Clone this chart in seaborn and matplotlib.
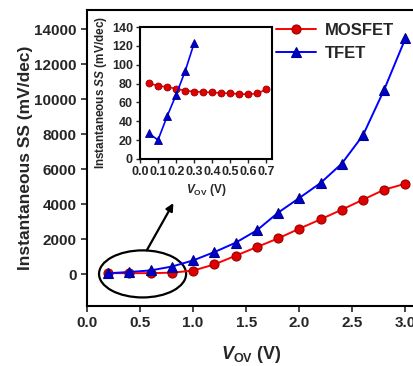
import matplotlib
matplotlib.use("Agg")
import matplotlib.pyplot as plt
import seaborn as sns
import pandas as pd
from matplotlib.patches import Ellipse

# ---- data ----
vov_main = [0.2, 0.4, 0.6, 0.8, 1.0, 1.2, 1.4, 1.6, 1.8, 2.0, 2.2, 2.4, 2.6, 2.8, 3.0]
ss_mosfet = [75, 70, 75, 100, 220, 571, 1066, 1562, 2057, 2610, 3143, 3695, 4267, 4838, 5180]
ss_tfet = [68, 140, 230, 450, 800, 1276, 1810, 2514, 3524, 4362, 5219, 6324, 7943, 10552, 13480]

vov_inset_mos = [0.05, 0.10, 0.15, 0.20, 0.25, 0.30, 0.35, 0.40, 0.45, 0.50, 0.55, 0.60, 0.65, 0.70]
ss_inset_mos = [80.5, 77.5, 76.5, 74.5, 72.5, 71.5, 71, 70.5, 70, 69.5, 69, 68.5, 69.5, 74]
vov_inset_tfet = [0.05, 0.10, 0.15, 0.20, 0.25, 0.30]
ss_inset_tfet = [27, 20, 45, 68, 93, 123]

main_xticks = [0.0, 0.5, 1.0, 1.5, 2.0, 2.5, 3.0]
main_yticks = [0, 2000, 4000, 6000, 8000, 10000, 12000, 14000]
inset_xticks = [0.0, 0.1, 0.2, 0.3, 0.4, 0.5, 0.6, 0.7]
inset_yticks = [0, 20, 40, 60, 80, 100, 120, 140]

sns.set_style("ticks")
plt.rcParams['font.family'] = ['Liberation Sans', 'DejaVu Sans']
plt.rcParams['font.weight'] = 'bold'
plt.rcParams['mathtext.fontset'] = 'custom'
plt.rcParams['mathtext.it'] = 'Liberation Sans:italic:bold'
plt.rcParams['mathtext.rm'] = 'Liberation Sans:bold'
plt.rcParams['mathtext.bf'] = 'Liberation Sans:bold'

fig = plt.figure(figsize=(4.14, 3.66), dpi=100)
ax = fig.add_axes([0.210, 0.164, 0.795, 0.809])

red = "#ff0000"
blue = "#0000ff"

df_m = pd.DataFrame({"x": vov_main, "y": ss_mosfet})
df_t = pd.DataFrame({"x": vov_main, "y": ss_tfet})
sns.lineplot(data=df_m, x="x", y="y", ax=ax, color=red, marker="o", markersize=6.5,
             markerfacecolor="#e00000", markeredgecolor="#990000", markeredgewidth=0.8,
             linewidth=1.4, label="MOSFET")
sns.lineplot(data=df_t, x="x", y="y", ax=ax, color=blue, marker="^", markersize=7,
             markerfacecolor="#0000cc", markeredgecolor="#000088", markeredgewidth=0.8,
             linewidth=1.4, label="TFET")

ax.set_xlim(0, 3.1)
ax.set_ylim(-1800, 15100)
ax.set_xticks(main_xticks)
ax.set_xticklabels([f"{v:.1f}" for v in main_xticks])
ax.set_yticks(main_yticks)
ax.tick_params(axis="both", labelsize=11, width=1.2, length=4, direction="out")
for lab in ax.get_xticklabels() + ax.get_yticklabels():
    lab.set_fontweight("bold")
for s in ax.spines.values():
    s.set_linewidth(1.5)
    s.set_color("black")
ax.set_xlabel(r"$\mathit{V}_{\mathrm{OV}}$ (V)", fontsize=13, fontweight="bold", labelpad=10)
ax.set_ylabel("Instantaneous SS (mV/dec)", fontsize=12.5, fontweight="bold", labelpad=1)

leg = ax.legend(loc="upper left", bbox_to_anchor=(0.54, 0.995), frameon=False,
                prop={"weight": "bold", "size": 12}, handlelength=2.4,
                handletextpad=0.5, labelspacing=0.45, borderaxespad=0.3)

ell = Ellipse((0.524, 30), 0.82, 2686, fill=False, edgecolor="black", linewidth=1.6)
ax.add_patch(ell)
ax.annotate("", xy=(0.814, 4074), xytext=(0.563, 1371),
            arrowprops=dict(arrowstyle="-|>", color="black", lw=1.6,
                            mutation_scale=11, shrinkA=0, shrinkB=0))

# ---- inset ----
ins = fig.add_axes([0.338, 0.566, 0.320, 0.360])
df_im = pd.DataFrame({"x": vov_inset_mos, "y": ss_inset_mos})
df_it = pd.DataFrame({"x": vov_inset_tfet, "y": ss_inset_tfet})
sns.lineplot(data=df_im, x="x", y="y", ax=ins, color=red, marker="o", markersize=5,
             markerfacecolor="#e00000", markeredgecolor="#990000", markeredgewidth=0.6,
             linewidth=1.2, legend=False)
sns.lineplot(data=df_it, x="x", y="y", ax=ins, color=blue, marker="^", markersize=5.5,
             markerfacecolor="#0000cc", markeredgecolor="#000088", markeredgewidth=0.6,
             linewidth=1.2, legend=False)
ins.set_xlim(0, 0.733)
ins.set_ylim(0, 140)
ins.set_xticks(inset_xticks)
ins.set_xticklabels([f"{v:.1f}" for v in inset_xticks])
ins.set_yticks(inset_yticks)
ins.tick_params(axis="both", labelsize=9, width=1.0, length=3, direction="out", pad=2)
for lab in ins.get_xticklabels() + ins.get_yticklabels():
    lab.set_fontweight("bold")
for s in ins.spines.values():
    s.set_linewidth(1.5)
    s.set_color("black")
ins.set_xlabel(r"$\mathit{V}_{\mathrm{OV}}$ (V)", fontsize=8.5, fontweight="bold", labelpad=3)
ins.set_ylabel(r"Instantaneous $\mathit{SS}$ (mV/dec)", fontsize=8.5, fontweight="bold", labelpad=2)

fig.savefig("out.png", dpi=100)
